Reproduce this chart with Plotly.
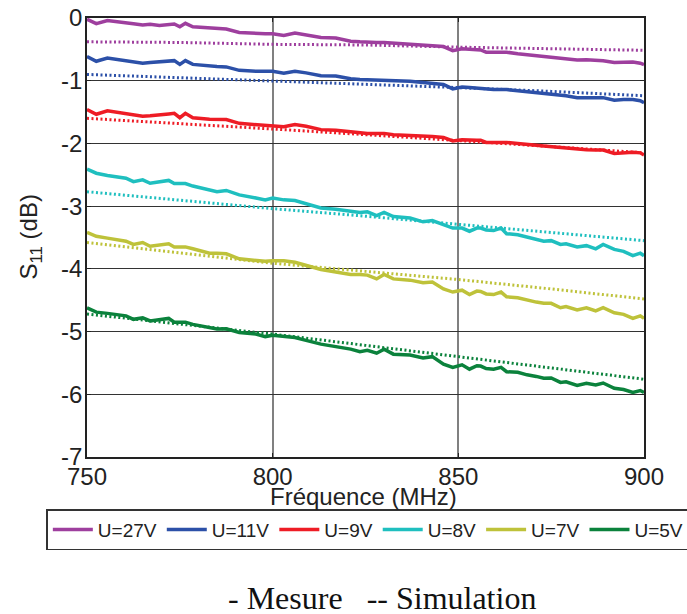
import plotly.graph_objects as go

# Frequency grid (MHz) for measured curves
freq = [750, 752.5, 755.5, 760.5, 762.5, 765, 767, 769.5, 772, 773.5,
        775, 776.5, 778.5, 783, 785, 787.5, 791, 795.5, 798, 800,
        803, 806, 809, 813, 817, 821, 823.5, 825.5, 828, 830,
        832.5, 837, 840.5, 843, 846, 848.5, 851, 853, 855, 856,
        857.5, 859.5, 861.5, 863, 866, 868.5, 871, 873, 875, 877.5,
        879, 882, 884.5, 887, 889, 892, 894.5, 897, 899, 900]

mes_27v = [-0.02, -0.09, -0.04, -0.085, -0.09, -0.11, -0.10, -0.12, -0.11, -0.095,
           -0.14, -0.085, -0.14, -0.16, -0.16, -0.175, -0.23, -0.25, -0.25, -0.25,
           -0.28, -0.24, -0.265, -0.31, -0.32, -0.37, -0.38, -0.39, -0.39, -0.39,
           -0.40, -0.41, -0.43, -0.44, -0.455, -0.52, -0.49, -0.50, -0.51, -0.51,
           -0.545, -0.545, -0.54, -0.545, -0.57, -0.585, -0.60, -0.61, -0.62, -0.64,
           -0.645, -0.67, -0.665, -0.675, -0.68, -0.71, -0.71, -0.70, -0.72, -0.745]
mes_11v = [-0.615, -0.69, -0.64, -0.68, -0.70, -0.72, -0.71, -0.70, -0.69, -0.68,
           -0.74, -0.68, -0.74, -0.77, -0.775, -0.78, -0.835, -0.85, -0.85, -0.85,
           -0.88, -0.85, -0.875, -0.92, -0.925, -0.97, -0.98, -0.985, -0.985, -0.985,
           -0.995, -1.01, -1.03, -1.04, -1.06, -1.13, -1.10, -1.11, -1.12, -1.12,
           -1.14, -1.14, -1.14, -1.14, -1.16, -1.175, -1.19, -1.21, -1.22, -1.23,
           -1.24, -1.27, -1.265, -1.27, -1.27, -1.31, -1.30, -1.30, -1.32, -1.35]
mes_9v = [-1.46, -1.535, -1.48, -1.52, -1.54, -1.565, -1.56, -1.55, -1.53, -1.52,
          -1.59, -1.52, -1.59, -1.615, -1.615, -1.62, -1.68, -1.70, -1.70, -1.71,
          -1.735, -1.70, -1.725, -1.78, -1.79, -1.815, -1.83, -1.84, -1.84, -1.84,
          -1.86, -1.87, -1.885, -1.89, -1.905, -1.96, -1.94, -1.95, -1.95, -1.95,
          -1.985, -1.985, -1.98, -1.985, -2.00, -2.02, -2.03, -2.04, -2.05, -2.07,
          -2.075, -2.095, -2.10, -2.105, -2.105, -2.16, -2.15, -2.14, -2.15, -2.185]
mes_8v = [-2.41, -2.475, -2.51, -2.555, -2.61, -2.58, -2.635, -2.61, -2.59, -2.64,
          -2.64, -2.64, -2.68, -2.74, -2.77, -2.75, -2.82, -2.87, -2.90, -2.87,
          -2.90, -2.91, -2.96, -3.03, -3.05, -3.085, -3.10, -3.09, -3.15, -3.10,
          -3.165, -3.19, -3.25, -3.23, -3.30, -3.35, -3.35, -3.40, -3.35, -3.35,
          -3.38, -3.39, -3.35, -3.44, -3.455, -3.49, -3.535, -3.56, -3.55, -3.61,
          -3.60, -3.65, -3.63, -3.68, -3.61, -3.69, -3.72, -3.79, -3.75, -3.79]
mes_7v = [-3.42, -3.48, -3.51, -3.56, -3.61, -3.58, -3.64, -3.62, -3.60, -3.65,
          -3.65, -3.65, -3.68, -3.75, -3.75, -3.76, -3.84, -3.86, -3.88, -3.87,
          -3.87, -3.895, -3.95, -4.01, -4.05, -4.09, -4.09, -4.10, -4.16, -4.09,
          -4.16, -4.18, -4.22, -4.21, -4.32, -4.37, -4.34, -4.41, -4.355, -4.36,
          -4.40, -4.41, -4.37, -4.445, -4.46, -4.50, -4.53, -4.55, -4.55, -4.62,
          -4.60, -4.655, -4.62, -4.67, -4.62, -4.70, -4.725, -4.79, -4.75, -4.79]
mes_5v = [-4.62, -4.69, -4.71, -4.75, -4.805, -4.78, -4.83, -4.81, -4.79, -4.85,
          -4.85, -4.85, -4.885, -4.94, -4.96, -4.955, -5.015, -5.04, -5.08, -5.06,
          -5.08, -5.095, -5.14, -5.20, -5.24, -5.28, -5.32, -5.30, -5.345, -5.28,
          -5.36, -5.375, -5.42, -5.40, -5.52, -5.57, -5.53, -5.60, -5.545, -5.55,
          -5.59, -5.60, -5.57, -5.64, -5.65, -5.69, -5.715, -5.745, -5.74, -5.81,
          -5.80, -5.86, -5.825, -5.85, -5.82, -5.905, -5.925, -5.97, -5.94, -5.97]

# Simulation curves
sim_freq = [750, 775, 800, 825, 850, 875, 900]
sim_27v = [-0.38, -0.39, -0.42, -0.43, -0.465, -0.495, -0.515]
sim_11v = [-0.90, -0.95, -1.00, -1.05, -1.11, -1.17, -1.24]
sim_9v = [-1.60, -1.68, -1.77, -1.86, -1.95, -2.05, -2.15]
sim_8v = [-2.77, -2.91, -3.04, -3.16, -3.29, -3.42, -3.55]
sim_7v = [-3.58, -3.75, -3.91, -4.04, -4.17, -4.32, -4.48]
sim_5v = [-4.72, -4.88, -5.04, -5.22, -5.40, -5.58, -5.76]

labels = ["U=27V", "U=11V", "U=9V", "U=8V", "U=7V", "U=5V"]
colors = ["#9e3f9e", "#2c50a8", "#ee1c25", "#1fbfbf", "#bec23a", "#0b823c"]
measured = [mes_27v, mes_11v, mes_9v, mes_8v, mes_7v, mes_5v]
simulated = [sim_27v, sim_11v, sim_9v, sim_8v, sim_7v, sim_5v]

x_ticks = [750, 800, 850, 900]
y_ticks = [0, -1, -2, -3, -4, -5, -6, -7]

fig = go.Figure()
for lab, col, sim in zip(labels, colors, simulated):
    fig.add_trace(go.Scatter(x=sim_freq, y=sim, mode="lines", showlegend=False,
                             line=dict(color=col, width=3, dash="2px,2.5px")))
for lab, col, mes in zip(labels, colors, measured):
    fig.add_trace(go.Scatter(x=freq, y=mes, mode="lines", name=lab,
                             line=dict(color=col, width=3.5)))

axis_font = dict(family="Liberation Sans, Arial, sans-serif", size=24, color="#222")
fig.update_layout(
    width=687, height=614,
    margin=dict(l=87, r=43, t=18, b=157, autoexpand=False),
    plot_bgcolor="white", paper_bgcolor="white",
    font=axis_font,
    showlegend=True,
    legend=dict(orientation="h", x=-0.073, y=-0.119, xanchor="left", yanchor="top",
                bordercolor="#333", borderwidth=1.5, bgcolor="white",
                font=dict(family="Liberation Sans, Arial, sans-serif", size=19, color="#222"),
                itemwidth=40, tracegroupgap=0),
    xaxis=dict(range=[750, 900], tickvals=x_ticks, ticktext=[str(v) for v in x_ticks],
               showgrid=True, gridcolor="#808080", gridwidth=2,
               showline=True, linecolor="#222", linewidth=1.5, mirror="ticks",
               ticks="inside", ticklen=4, tickcolor="#222",
               ticklabelstandoff=-3, tickfont=axis_font, zeroline=False),
    yaxis=dict(range=[-7, 0], tickvals=y_ticks, ticktext=[str(v) for v in y_ticks],
               showgrid=True, gridcolor="#333", gridwidth=1.3,
               showline=True, linecolor="#222", linewidth=1.5, mirror="ticks",
               ticks="inside", ticklen=4, tickcolor="#222",
               ticklabelstandoff=-2, tickfont=axis_font, zeroline=False),
    annotations=[
        dict(text="Fréquence (MHz)", xref="paper", yref="paper", x=0.497, y=-0.091,
             xanchor="center", yanchor="middle", showarrow=False,
             font=dict(family="Liberation Sans, Arial, sans-serif", size=24, color="#222")),
        dict(text="S<sub>11</sub> (dB)", xref="paper", yref="paper", x=-0.1023, y=0.5,
             xanchor="center", yanchor="middle", showarrow=False, textangle=-90,
             font=dict(family="Liberation Sans, Arial, sans-serif", size=24, color="#222")),
        dict(text="- Mesure\u00a0\u00a0\u00a0-- Simulation", xref="paper", yref="paper",
             x=0.5296, y=-0.322, xanchor="center", yanchor="middle", showarrow=False,
             font=dict(family="Liberation Serif, Times New Roman, serif", size=32, color="#111")),
    ],
)

fig.write_html("out.html", config={"displayModeBar": False},
               post_script="document.body.style.margin='0px';")
